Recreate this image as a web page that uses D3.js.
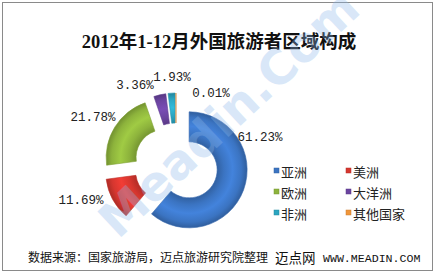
<!DOCTYPE html>
<html><head><meta charset="utf-8">
<script src="https://cdn.jsdelivr.net/npm/d3@7/dist/d3.min.js"></script>
<style>body{margin:0;background:#fff}svg{display:block}</style>
</head><body>
<svg id="c" width="435" height="273"></svg>
<script>
const categories = ["亚洲","美洲","欧洲","大洋洲","非洲","其他国家"];
const values = [61.23, 11.69, 21.78, 3.36, 1.93, 0.01];
const labels = ["61.23%","11.69%","21.78%","3.36%","1.93%","0.01%"];
const colors = ["#3b74c2","#d6362f","#8db33c","#6b44a0","#2ba5c0","#f0963a"];
const title = "2012年1-12月外国旅游者区域构成";
const source = "数据来源：国家旅游局，迈点旅游研究院整理";

// layout
const W = 435, H = 273;
const cx = 176, cy = 165, R = 58, r0 = 28, explode = 14;
const labelPos = [[260,141],[81,204],[93,121],[135,89],[172,81],[211,97]];

const svg = d3.select("#c");
svg.append("rect").attr("x",2.5).attr("y",2.5).attr("width",430).attr("height",268)
  .attr("fill","#fff").attr("stroke","#8a8a8a").attr("stroke-width",1);

svg.append("text").attr("x",219).attr("y",48).attr("text-anchor","middle")
  .attr("font-family","'Liberation Serif','Noto Sans CJK SC',serif").attr("font-weight","bold")
  .attr("font-size",18.5).attr("fill","#111").text(title);

const defs = svg.append("defs");
colors.forEach((c,i)=>{
  const g = defs.append("radialGradient").attr("id","g"+i)
    .attr("gradientUnits","userSpaceOnUse").attr("cx",0).attr("cy",0).attr("r",R);
  const base = d3.color(c);
  g.append("stop").attr("offset",r0/R).attr("stop-color",base.darker(0.5));
  g.append("stop").attr("offset",(r0/R)+0.12).attr("stop-color",base);
  g.append("stop").attr("offset",0.75).attr("stop-color",base.brighter(0.35));
  g.append("stop").attr("offset",0.9).attr("stop-color",base);
  g.append("stop").attr("offset",1).attr("stop-color",base.darker(0.6));
});

const pie = d3.pie().sort(null).value(d=>d)(values);
const arc = d3.arc().innerRadius(r0).outerRadius(R);
const gp = svg.append("g").attr("transform",`translate(${cx},${cy})`);
gp.selectAll("path").data(pie).join("path")
  .attr("transform",d=>{const m=(d.startAngle+d.endAngle)/2;return `translate(${explode*Math.sin(m)},${-explode*Math.cos(m)})`;})
  .attr("d",arc).attr("fill",(d,i)=>`url(#g${i})`)
  .attr("stroke",(d,i)=>d3.color(colors[i]).darker(0.3)).attr("stroke-width",0.6);

svg.selectAll("text.lbl").data(labels).join("text").attr("class","lbl")
  .attr("x",(d,i)=>labelPos[i][0]).attr("y",(d,i)=>labelPos[i][1])
  .attr("text-anchor","middle").attr("font-family","'Liberation Mono',monospace")
  .attr("font-size",12.5).attr("fill","#222").text(d=>d);

// legend
const lx = [275, 347], ly = [172, 193, 214];
const lg = svg.selectAll("g.leg").data(categories).join("g").attr("class","leg")
  .attr("transform",(d,i)=>`translate(${lx[i%2]},${ly[Math.floor(i/2)]})`);
lg.append("rect").attr("x",-1).attr("y",-4).attr("width",5).attr("height",5)
  .attr("fill",(d,i)=>colors[i]).attr("stroke",(d,i)=>d3.color(colors[i]).darker(0.5)).attr("stroke-width",0.5);
lg.append("text").attr("x",6).attr("y",5).attr("font-family","'Noto Sans CJK SC',sans-serif")
  .attr("font-size",13).attr("fill","#222").text(d=>d);

svg.append("text").attr("x",28).attr("y",262).attr("font-family","'Noto Sans CJK SC',sans-serif")
  .attr("font-size",12).attr("fill","#111").text(source);
svg.append("text").attr("x",275).attr("y",263).attr("font-family","'Noto Sans CJK SC',sans-serif")
  .attr("font-size",13.5).attr("fill","#111").text("迈点网");
svg.append("text").attr("x",323).attr("y",262).attr("font-family","'Liberation Mono',monospace")
  .attr("font-size",11.6).attr("fill","#111").text("WWW.MEADIN.COM");

// watermark
svg.append("text").attr("transform","translate(118,240) rotate(-43)")
  .attr("font-family","'DejaVu Sans',sans-serif").attr("font-weight","bold").attr("font-size",48)
  .attr("fill","#8db8ea").attr("opacity",0.33).text("Meadin.Com");
</script>
</body></html>
